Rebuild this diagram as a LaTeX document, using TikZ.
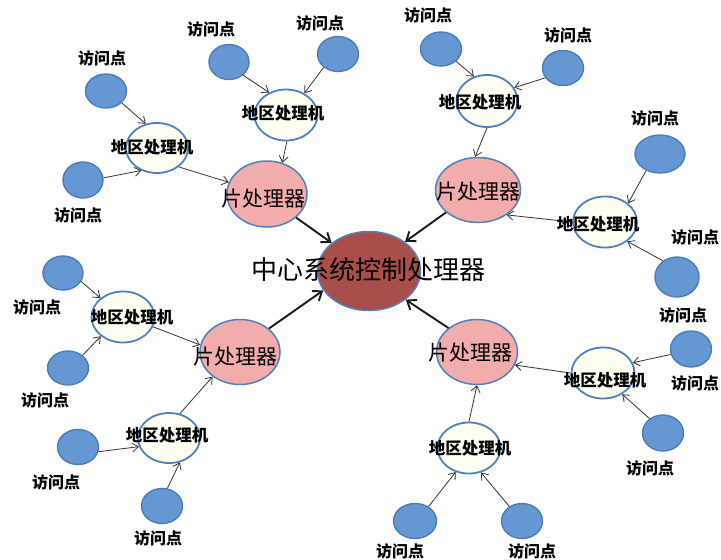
\documentclass[tikz,border=0pt]{standalone}
\usepackage{fontspec}
\setmainfont{Noto Sans CJK SC}
\usetikzlibrary{shapes.geometric,arrows.meta}
\definecolor{apfill}{HTML}{6597D3}
\definecolor{apline}{HTML}{4A7EBB}
\definecolor{edge}{HTML}{4F81BD}
\definecolor{regfill}{HTML}{FFFFF3}
\definecolor{chipfill}{HTML}{F2ACAB}
\definecolor{corefill}{HTML}{AA4E4B}
\tikzset{
  ap/.style={ellipse,draw=apline,fill=apfill,line width=1.4pt,inner sep=0pt},
  region/.style={ellipse,draw=edge,fill=regfill,line width=1.8pt,inner sep=0pt},
  chip/.style={ellipse,draw=edge,fill=chipfill,line width=1.5pt,inner sep=0pt},
  core/.style={ellipse,draw=edge,fill=corefill,line width=1.5pt,inner sep=0pt},
  aptext/.style={font=\fontsize{16}{16}\selectfont\bfseries,inner sep=0pt},
  regtext/.style={font=\fontsize{16.5}{16.5}\selectfont\bfseries,inner sep=0pt},
  chiptext/.style={font=\fontsize{21}{21}\selectfont,inner sep=0pt},
  coretext/.style={font=\fontsize{26}{26}\selectfont,inner sep=0pt},
  feed/.style={draw=black!80,line width=0.8pt,-{Straight Barb[length=6pt,width=9pt]}},
  trunk/.style={draw=black!90,line width=1.9pt,-{Straight Barb[length=8pt,width=12pt]}}
}
\newcommand{\ellnode}[6]{\node[#1,minimum width=#4pt,minimum height=#5pt] (#2) at (#3) {#6};}
\begin{document}
\begin{tikzpicture}[x=1pt,y=-1pt]
\useasboundingbox[fill=white] (0,0) rectangle (721,560);

% central processor
\ellnode{core}{C}{369,271}{103}{79}{}
% chip processors
\ellnode{chip}{P1}{267,194}{80}{66}{}
\ellnode{chip}{P2}{478,190}{85}{65}{}
\ellnode{chip}{P3}{240,352}{80}{65}{}
\ellnode{chip}{P4}{477,352}{81}{65}{}
% regional processors
\ellnode{region}{R1}{157,148}{62}{50}{}
\ellnode{region}{R2}{286,115}{63}{51}{}
\ellnode{region}{R3}{487,101}{61}{52}{}
\ellnode{region}{R4}{605,222}{64}{51}{}
\ellnode{region}{R5}{123,317}{63}{51}{}
\ellnode{region}{R6}{169,438}{62}{50}{}
\ellnode{region}{R7}{469,448}{63}{51}{}
\ellnode{region}{R8}{603,373}{63}{51}{}
% access points
\ellnode{ap}{A1}{106,91}{41}{34}{}
\ellnode{ap}{A2}{83,180}{40}{36}{}
\ellnode{ap}{A3}{229,62}{40}{35}{}
\ellnode{ap}{A4}{338,54}{41}{35}{}
\ellnode{ap}{A5}{441,49}{41}{34}{}
\ellnode{ap}{A6}{563,68}{41}{35}{}
\ellnode{ap}{A7}{660,154}{50}{38}{}
\ellnode{ap}{A8}{677,277}{44}{40}{}
\ellnode{ap}{A9}{63,273}{40}{34}{}
\ellnode{ap}{A10}{68,368}{41}{34}{}
\ellnode{ap}{A11}{78,447}{41}{35}{}
\ellnode{ap}{A12}{162,506}{41}{35}{}
\ellnode{ap}{A13}{691,349}{41}{36}{}
\ellnode{ap}{A14}{663,433}{41}{36}{}
\ellnode{ap}{A15}{415,521}{43}{35}{}
\ellnode{ap}{A16}{522,521}{41}{35}{}

% upper left branch
\draw[feed] (A1.-37) -- (R1.115);
\draw[feed] (A2.6) -- (R1.-125);
\draw[feed] (A3.-43) -- (R2.127);
\draw[feed] (A4.-137) -- (R2.50);
\draw[feed] (R2.-88) -- (P1.64);
\draw[feed] (R1.-41) -- (P1.163);
\draw[trunk] (P1.-39) -- (C.143);
% upper right branch
\draw[feed] (A5.-39) -- (R3.118);
\draw[feed] (A6.-151) -- (R3.26);
\draw[feed] (R3.-90) -- (P2.95);
\draw[feed] (A7.-130) -- (R4.39);
\draw[feed] (A8.131) -- (R4.-41);
\draw[feed] (R4.180) -- (P2.-41);
\draw[trunk] (P2.-145) -- (C.39);
% lower left branch
\draw[feed] (A9.-25) -- (R5.140);
\draw[feed] (A10.41) -- (R5.-139);
\draw[feed] (R5.-18) -- (P3.170);
\draw[feed] (A11.-13) -- (R6.-164);
\draw[feed] (A12.73) -- (R6.-66);
\draw[feed] (R6.66) -- (P3.-138);
\draw[trunk] (P3.39) -- (C.-157);
% lower right branch
\draw[feed] (A15.47) -- (R7.-119);
\draw[feed] (A16.131) -- (R7.-64);
\draw[feed] (R7.90) -- (P4.-90);
\draw[feed] (A13.-165) -- (R8.19);
\draw[feed] (A14.133) -- (R8.-48);
\draw[feed] (R8.180) -- (P4.-19);
\draw[trunk] (P4.140) -- (C.-38);

% texts
\node[coretext] (Ct) at (368,270) {中心系统控制处理器};
\node[chiptext] (P1t) at (263,199) {片处理器};
\node[chiptext] (P2t) at (478,192) {片处理器};
\node[chiptext] (P3t) at (235,357) {片处理器};
\node[chiptext] (P4t) at (470,353) {片处理器};
\node[regtext] (R1t) at (152,147) {地区处理机};
\node[regtext] (R2t) at (283,113) {地区处理机};
\node[regtext] (R3t) at (480,102) {地区处理机};
\node[regtext] (R4t) at (598,224) {地区处理机};
\node[regtext] (R5t) at (132,317) {地区处理机};
\node[regtext] (R6t) at (167,435) {地区处理机};
\node[regtext] (R7t) at (470,448) {地区处理机};
\node[regtext] (R8t) at (605,380) {地区处理机};
\node[aptext] (L1) at (102,58) {访问点};
\node[aptext] (L2) at (78,215) {访问点};
\node[aptext] (L3) at (211,29) {访问点};
\node[aptext] (L4) at (320,23) {访问点};
\node[aptext] (L5) at (428,15) {访问点};
\node[aptext] (L6) at (568,35) {访问点};
\node[aptext] (L7) at (655,118) {访问点};
\node[aptext] (L8) at (695,237) {访问点};
\node[aptext] (L9) at (683,315) {访问点};
\node[aptext] (L10) at (695,383) {访问点};
\node[aptext] (L11) at (650,468) {访问点};
\node[aptext] (L12) at (400,551) {访问点};
\node[aptext] (L13) at (532,551) {访问点};
\node[aptext] (L14) at (37,307) {访问点};
\node[aptext] (L15) at (45,400) {访问点};
\node[aptext] (L16) at (56,482) {访问点};
\node[aptext] (L17) at (158,538) {访问点};
\end{tikzpicture}
\end{document}
